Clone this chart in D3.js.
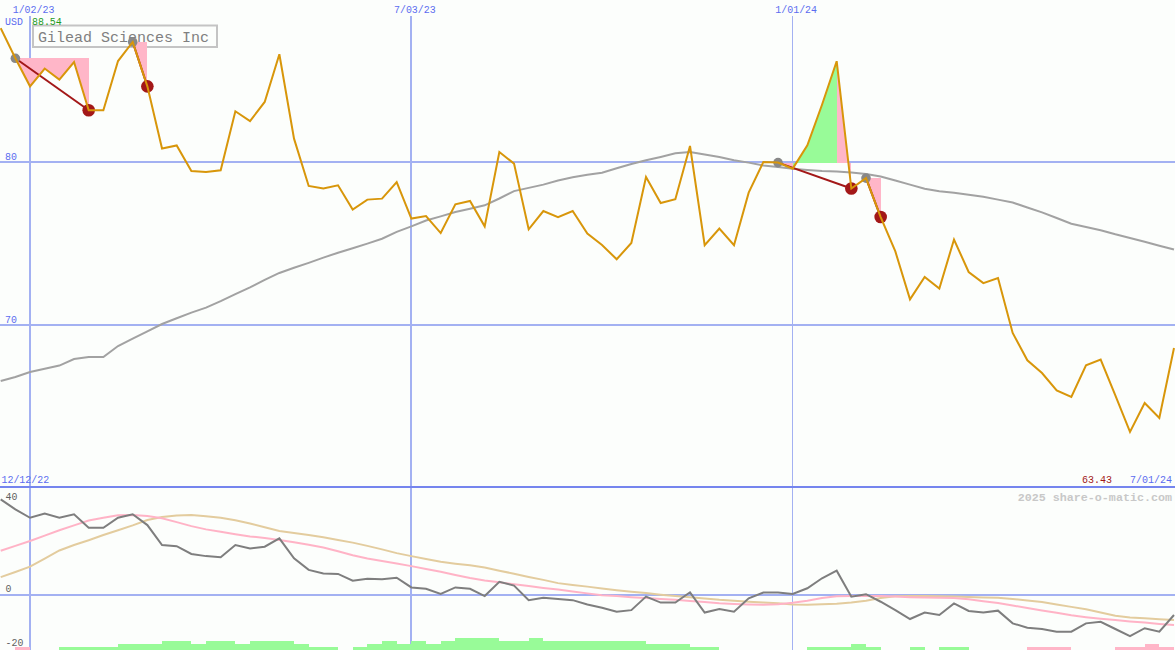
<!DOCTYPE html>
<html><head><meta charset="utf-8">
<script src="https://cdn.jsdelivr.net/npm/d3@7"></script>
<style>html,body{margin:0;padding:0;background:#fcfefc;} svg{display:block}</style>
</head><body><svg id="chart" width="1175" height="650"></svg>
<script>
// ---------- data ----------
const startDate = new Date(2022, 11, 19);
const endDate = new Date(2024, 6, 1);
const weeks = d3.range(81).map(i => d3.timeWeek.offset(startDate, i));

const prices = [88.2, 86.35, 84.63, 85.72, 85.04, 86.12, 83.16, 83.16, 86.18, 87.35,
  84.63, 80.81, 81.0, 79.44, 79.37, 79.48, 83.1, 82.5, 83.67, 86.6,
  81.42, 78.52, 78.36, 78.56, 77.07, 77.68, 77.74, 78.76, 76.52, 76.67,
  75.63, 77.39, 77.6, 76.04, 80.6, 79.89, 75.86, 76.98, 76.61, 76.98,
  75.6, 74.9, 74.02, 75.02, 79.07, 77.47, 77.7, 80.97, 74.88, 75.9,
  74.88, 78.11, 79.99, 79.95, 79.58, 81.01, 83.5, 86.17, 78.36, 79.0,
  76.61, 74.5, 71.56, 72.93, 72.22, 75.23, 73.24, 72.56, 72.87, 69.5,
  67.82, 67.04, 65.98, 65.57, 67.52, 67.87, 65.67, 63.43, 65.2, 64.28, 68.58];

const movingAvg = [66.55, 66.8, 67.1, 67.3, 67.5, 67.9, 68.02, 68.02, 68.7, 69.15,
  69.6, 70.05, 70.4, 70.75, 71.05, 71.45, 71.88, 72.3, 72.75, 73.18,
  73.5, 73.8, 74.12, 74.42, 74.7, 74.98, 75.28, 75.7, 76.04, 76.4,
  76.65, 76.92, 77.12, 77.33, 77.75, 78.2, 78.4, 78.6, 78.85, 79.05,
  79.2, 79.33, 79.6, 79.86, 80.1, 80.3, 80.52, 80.6, 80.45, 80.3,
  80.1, 79.95, 79.78, 79.68, 79.58, 79.5, 79.44, 79.4, 79.34, 79.25,
  79.1, 78.85, 78.6, 78.35, 78.2, 78.1, 77.98, 77.85, 77.68, 77.5,
  77.2, 76.9, 76.55, 76.2, 76.0, 75.8, 75.55, 75.33, 75.1, 74.85, 74.62];

const momentum = [35.4, 31.7, 28.6, 30.2, 28.6, 29.9, 24.9, 24.9, 28.6, 29.9,
  25.9, 18.5, 18.1, 15.2, 14.4, 14.0, 18.5, 17.2, 17.9, 21.0,
  13.6, 9.3, 8.0, 7.8, 5.3, 6.0, 5.8, 6.4, 2.8, 2.3,
  0.4, 2.8, 2.3, -0.4, 4.9, 3.5, -1.9, -1.0, -1.5, -1.9,
  -3.5, -4.7, -6.2, -5.6, -0.6, -2.8, -2.8, 1.0, -6.5, -5.2,
  -6.2, -1.2, 0.9, 0.9, 0.4, 2.5, 6.2, 9.0, -0.6, 0.3,
  -2.5, -5.6, -8.9, -6.5, -7.4, -3.1, -5.9, -6.5, -5.8, -10.5,
  -12.1, -12.6, -13.6, -13.6, -10.5, -9.9, -12.6, -15.2, -12.3, -13.6, -7.4];

const momentumFast = [16.4, 18.2, 20.0, 22.0, 24.0, 25.8, 27.6, 28.6, 29.5, 29.6,
  29.3, 28.4, 27.0, 25.5, 24.3, 23.4, 22.5, 21.7, 21.1, 20.4,
  19.5, 18.6, 17.6, 16.2, 14.7, 13.5, 12.6, 11.7, 10.7, 9.6,
  8.6, 7.4, 6.3, 5.4, 4.7, 4.0, 3.3, 2.6, 2.0, 1.3,
  0.6, -0.05, -0.4, -0.8, -1.1, -1.5, -1.8, -2.2, -2.6, -3.1,
  -3.3, -3.5, -3.6, -3.4, -2.9, -2.1, -1.1, -0.5, -0.4, -0.4,
  -0.4, -0.6, -0.8, -0.9, -1.0, -1.15, -1.6, -2.3, -3.0, -3.9,
  -4.8, -5.7, -6.6, -7.5, -8.2, -8.8, -9.3, -9.8, -10.2, -10.7, -11.1];

const momentumSlow = [6.6, 8.5, 10.5, 13.5, 16.5, 18.5, 20.3, 22.2, 24.0, 25.8,
  27.8, 28.9, 29.4, 29.6, 29.2, 28.6, 27.7, 26.5, 25.1, 23.7,
  23.0, 22.2, 21.4, 20.4, 19.4, 18.2, 16.9, 15.5, 14.4, 13.3,
  12.3, 11.6, 11.0, 10.2, 9.0, 7.9, 6.7, 5.6, 4.4, 3.7,
  3.1, 2.4, 1.8, 1.2, 0.7, 0.1, -0.4, -0.8, -1.3, -1.8,
  -2.1, -2.5, -2.8, -3.1, -3.5, -3.6, -3.4, -3.2, -2.8, -2.1,
  -1.1, -0.5, -0.4, -0.4, -0.5, -0.6, -0.7, -0.9, -1.0, -1.5,
  -2.0, -2.6, -3.5, -4.4, -5.3, -6.5, -7.7, -8.3, -8.6, -9.0, -9.3];

const trendBars = [0, -1, 0, 0, 1, 1, 1, 1, 2, 2,
  2, 3, 3, 2, 3, 3, 2, 3, 3, 3,
  2, 1, 1, 0, 1, 2, 3, 2, 3, 2,
  3, 4, 4, 4, 3, 3, 4, 3, 3, 3,
  3, 3, 3, 3, 2, 2, 2, 1, 1, 0,
  0, 0, 0, 0, 0, 1, 1, 1, 2, 1,
  0, 0, 1, 0, 1, 1, 0, 0, 0, 0,
  -1, -1, -1, 0, 0, 0, -1, -1, -2, -1, 0];

const entryIdx = [1, 9, 53, 59];
const exitIdx = [6, 10, 58, 60];

const dateTicks = ["2023-01-02", "2023-07-03", "2024-01-01"];
const dateTickLabels = ["1/02/23", "7/03/23", "1/01/24"];
const priceTicks = [80, 70];
const oscTicks = [40, 0, -20];
const title = "Gilead Sciences Inc";
const currency = "USD";
const highLabel = "88.54";
const lowLabel = "63.43";
const startLabel = "12/12/22";
const endLabel = "7/01/24";
const watermark = "2025 share-o-matic.com";

// ---------- scales ----------
const parse = d3.timeParse("%Y-%m-%d");
const x = d3.scaleTime().domain([startDate, endDate]).range([0.7, 1174]);
const y = d3.scaleLinear().domain([70, 80]).range([324.8, 161.8]);
const yo = d3.scaleLinear().domain([-20, 40]).range([649, 487]);
const barH = d3.scaleLinear().domain([0, 4]).range([0, 12.3]);

const svg = d3.select("#chart");
const mono = "'Liberation Mono','DejaVu Sans Mono',monospace";
const gridCol = "#a3b1f2", blueTxt = "#5b6cf0";

svg.append("rect").attr("width", 1175).attr("height", 650).attr("fill", "#fcfefc");

// title box (behind data)
svg.append("rect").attr("x", 33).attr("y", 25.5).attr("width", 184).attr("height", 21.5)
  .attr("fill", "none").attr("stroke", "#c4c4c4").attr("stroke-width", 2);
svg.append("text").attr("x", 38).attr("y", 41.5).text(title)
  .attr("font-family", mono).attr("font-size", 15.5).attr("fill", "#808080")
  .attr("textLength", 171).attr("lengthAdjust", "spacingAndGlyphs");

// grid
const grid = svg.append("g").attr("shape-rendering", "crispEdges");
priceTicks.forEach(v => grid.append("line").attr("x1", 0).attr("x2", 1175)
  .attr("y1", y(v)).attr("y2", y(v)).attr("stroke", gridCol).attr("stroke-width", 2));
grid.append("line").attr("x1", 0).attr("x2", 1175).attr("y1", yo(0)).attr("y2", yo(0))
  .attr("stroke", gridCol).attr("stroke-width", 2);
dateTicks.forEach((d, i) => grid.append("line")
  .attr("x1", x(parse(d))).attr("x2", x(parse(d))).attr("y1", 16).attr("y2", 650)
  .attr("stroke", gridCol).attr("stroke-width", i === 1 ? 2 : 1.3));
grid.append("line").attr("x1", 0).attr("x2", 1175).attr("y1", 487).attr("y2", 487)
  .attr("stroke", "#7585ee").attr("stroke-width", 2);

// fills between price and entry level
const fills = svg.append("g").attr("shape-rendering", "crispEdges");
entryIdx.forEach((e, k) => {
  const L = prices[e];
  for (let j = e; j < exitIdx[k]; j++) {
    const pts = [[x(weeks[j]), y(prices[j])], [x(weeks[j + 1]), y(prices[j + 1])],
                 [x(weeks[j + 1]), y(L)], [x(weeks[j]), y(L)]];
    fills.append("path").attr("d", d3.line()(pts) + "Z")
      .attr("fill", prices[j + 1] > L ? "#98fb98" : "#ffb6c8");
  }
});

// bottom bars
const bars = svg.append("g").attr("shape-rendering", "crispEdges");
trendBars.forEach((v, i) => {
  if (!v || i >= weeks.length - 1) return;
  const x0 = x(weeks[i]), x1 = x(weeks[i + 1]);
  const h = barH(Math.abs(v));
  bars.append("rect").attr("x", x0).attr("width", x1 - x0)
    .attr("y", 650 - h).attr("height", h)
    .attr("fill", v > 0 ? "#98fb98" : "#ffb6c8");
});

// moving average
const line = d3.line().x((d, i) => x(weeks[i]));
svg.append("path").attr("d", line.y(d => y(d))(movingAvg))
  .attr("fill", "none").attr("stroke", "#a2a2a2").attr("stroke-width", 2);

// signal connectors
entryIdx.forEach((e, k) => {
  const t = exitIdx[k];
  svg.append("line").attr("x1", x(weeks[e])).attr("y1", y(prices[e]))
    .attr("x2", x(weeks[t])).attr("y2", y(prices[t]))
    .attr("stroke", "#a31818").attr("stroke-width", 2);
});
entryIdx.forEach(e => svg.append("circle").attr("cx", x(weeks[e])).attr("cy", y(prices[e]))
  .attr("r", 4.8).attr("fill", "#888888"));
exitIdx.forEach(t => svg.append("circle").attr("cx", x(weeks[t])).attr("cy", y(prices[t]))
  .attr("r", 6.3).attr("fill", "#a31818"));

// price line
svg.append("path").attr("d", d3.line().x((d, i) => x(weeks[i])).y(d => y(d))(prices))
  .attr("fill", "none").attr("stroke", "#d8960a").attr("stroke-width", 2)
  .attr("stroke-linejoin", "miter");

// oscillator lines
const oline = d3.line().x((d, i) => x(weeks[i])).y(d => yo(d));
svg.append("path").attr("d", oline(momentumSlow)).attr("fill", "none")
  .attr("stroke", "#e3cc9e").attr("stroke-width", 2);
svg.append("path").attr("d", oline(momentumFast)).attr("fill", "none")
  .attr("stroke", "#ffb3c6").attr("stroke-width", 2);
svg.append("path").attr("d", oline(momentum)).attr("fill", "none")
  .attr("stroke", "#7e7e7e").attr("stroke-width", 2);

// labels (pixel-font look: taller glyphs, fixed advance)
const txt = (s, xx, yy, col, anchor, adv, size, weight) => svg.append("text")
  .attr("x", xx).attr("y", yy).text(s).attr("fill", col)
  .attr("font-family", mono).attr("font-size", size || 11.5)
  .attr("font-weight", weight || "normal").attr("text-anchor", anchor || "start")
  .attr("textLength", s.length * (adv || 5.95)).attr("lengthAdjust", "spacingAndGlyphs");
// right-edge labels: natural glyph widths (no stretching)
const txtR = (s, xx, yy, col, size, weight) => svg.append("text")
  .attr("x", xx).attr("y", yy).text(s).attr("fill", col)
  .attr("font-family", mono).attr("font-size", size)
  .attr("font-weight", weight || "normal").attr("text-anchor", "end");

dateTicks.forEach((d, i) => txt(dateTickLabels[i], x(parse(d)) + 3.5, 13, blueTxt, "middle"));
txt(currency, 5, 25, blueTxt, "start");
txt(highLabel, 32, 25, "#1e9a1e", "start");
priceTicks.forEach(v => txt(String(v), 5, y(v) - 2.3, blueTxt, "start"));
txt(startLabel, 1.5, 483, blueTxt, "start");
txtR(lowLabel, 1112, 483, "#a31818", 10);
txtR(endLabel, 1172, 483, blueTxt, 10);
txtR(watermark, 1172, 500.5, "#c8c8c8", 11.7, "bold");
oscTicks.forEach(v => txt(String(v), 5.5, v === 40 ? 499.5 : yo(v) - 3, "#606060", "start"));
</script></body></html>
